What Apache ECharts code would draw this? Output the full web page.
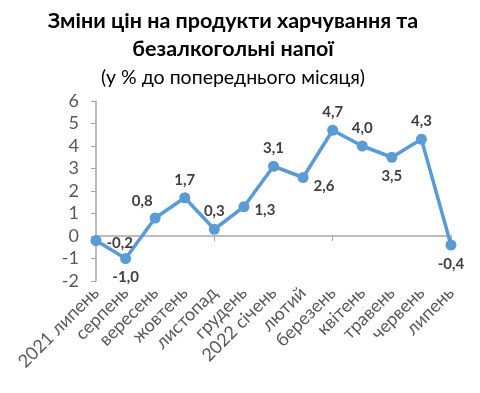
<!DOCTYPE html>
<html><head><meta charset="utf-8">
<script src="https://cdn.jsdelivr.net/npm/echarts@6/dist/echarts.min.js"></script>
<style>html,body{margin:0;padding:0;background:#fff}#c{width:480px;height:393px}</style>
</head><body><div id="c"></div>
<script>
const categories = ['2021 липень','серпень','вересень','жовтень','листопад','грудень','2022 січень','лютий','березень','квітень','травень','червень','липень'];
const values = [-0.2,-1.0,0.8,1.7,0.3,1.3,3.1,2.6,4.7,4.0,3.5,4.3,-0.4];
const labelPlacement = ['right','bottom','topleft','top','top','right','top','rightbelow','top','top','bottom','top','bottom'];
const titleLines = ['Зміни цін на продукти харчування та','безалкогольні напої'];
const subtitle = '(у % до попереднього місяця)';

const FONT = 'Lato, "Open Sans", "DejaVu Sans", sans-serif';
function lbl(p){
  switch(p){
    case 'right': return {position:'right', offset:[0,3]};
    case 'bottom': return {position:'bottom', offset:[0,1]};
    case 'topleft': return {position:'top', offset:[-13,1]};
    case 'rightbelow': return {position:'right', offset:[0,9]};
    default: return {position:'top', offset:[0,0]};
  }
}
const data = values.map((v,i)=>({value:v, label:lbl(labelPlacement[i])}));
const chart = echarts.init(document.getElementById('c'));
chart.setOption({
  animation:false,
  grid:{left:96,right:29,top:101,bottom:112,containLabel:false},
  graphic:[
    {type:'text',x:233,y:21,style:{text:titleLines[0],font:'bold 21.5px '+FONT,fill:'#000',textAlign:'center',textVerticalAlign:'middle'}},
    {type:'text',x:233,y:49,style:{text:titleLines[1],font:'bold 21.5px '+FONT,fill:'#000',textAlign:'center',textVerticalAlign:'middle'}},
    {type:'text',x:233,y:78,style:{text:subtitle,font:'19.5px '+FONT,fill:'#000',textAlign:'center',textVerticalAlign:'middle'}}
  ],
  xAxis:[
    {type:'category',data:categories,boundaryGap:false,
     axisLine:{onZero:true,lineStyle:{color:'#a6a6a6',width:1.5}},
     axisTick:{show:true,length:5,lineStyle:{color:'#a6a6a6'}},
     axisLabel:{show:false}},
    {type:'category',data:categories,boundaryGap:false,position:'bottom',
     axisLine:{show:false,onZero:false},axisTick:{show:false},
     axisLabel:{rotate:45,interval:0,margin:9,color:'#595959',fontSize:18,fontFamily:FONT}}
  ],
  yAxis:{type:'value',min:-2,max:6,interval:1,
     axisLine:{show:true,lineStyle:{color:'#a6a6a6',width:1.5}},
     axisTick:{show:true,length:5,lineStyle:{color:'#a6a6a6'}},
     splitLine:{show:false},
     axisLabel:{color:'#595959',fontSize:18,fontFamily:FONT,margin:17}},
  series:[{type:'line',xAxisIndex:0,data:data,
     lineStyle:{color:'#5b9bd5',width:3.5},
     itemStyle:{color:'#5b9bd5'},
     symbol:'circle',symbolSize:11,
     label:{show:true,fontWeight:'bold',fontSize:15,color:'#404040',fontFamily:FONT,
       formatter:p=>p.value.toFixed(1).replace('.',',')}}]
});
</script></body></html>
